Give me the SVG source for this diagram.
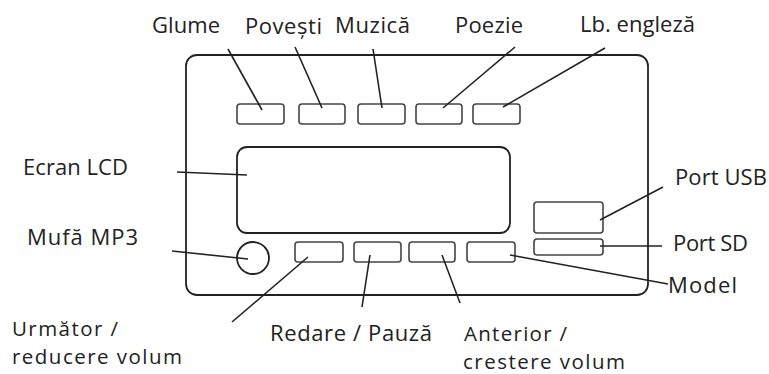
<svg xmlns="http://www.w3.org/2000/svg" width="769" height="374" viewBox="0 0 769 374">
<style>
.frame{fill:none;stroke:#222;stroke-width:1.8}
.btn{fill:#fff;stroke:#444;stroke-width:1.6}
.lbl{font-family:"Open Sans","Liberation Sans",sans-serif;font-size:22px;fill:#222}
.sm{font-size:20.5px}
.ln{stroke:#222;stroke-width:1.6;fill:none}
</style>
<rect width="769" height="374" fill="#fff"/>
<g id="device">
<rect class="frame" x="186" y="55" width="462" height="240" rx="11"/>
</g>
<g id="btn-glume"><rect class="btn" x="237" y="104" width="47" height="20" rx="3"/></g>
<g id="btn-povesti"><rect class="btn" x="299" y="104" width="46" height="20" rx="3"/></g>
<g id="btn-muzica"><rect class="btn" x="358" y="104" width="47" height="20" rx="3"/></g>
<g id="btn-poezie"><rect class="btn" x="416" y="104" width="46" height="20" rx="3"/></g>
<g id="btn-engleza"><rect class="btn" x="473" y="104" width="47" height="20" rx="3"/></g>
<g id="lcd"><rect class="frame" x="237" y="147" width="273" height="86" rx="10"/></g>
<g id="jack"><circle class="frame" cx="253" cy="258" r="16"/></g>
<g id="btn-urmator"><rect class="btn" x="295" y="242" width="48" height="20" rx="3"/></g>
<g id="btn-redare"><rect class="btn" x="354" y="242" width="47" height="20" rx="3"/></g>
<g id="btn-anterior"><rect class="btn" x="409" y="242" width="46" height="20" rx="3"/></g>
<g id="btn-model"><rect class="btn" x="467" y="242" width="48" height="20" rx="3"/></g>
<g id="usb"><rect class="btn" x="534" y="202" width="69" height="31" rx="3"/></g>
<g id="sd"><rect class="btn" x="534" y="239" width="69" height="16" rx="3"/></g>
<g id="connectors">
<line class="ln" x1="228" y1="49" x2="262" y2="110"/>
<line class="ln" x1="295" y1="47" x2="322" y2="108"/>
<line class="ln" x1="373" y1="49" x2="382" y2="108"/>
<line class="ln" x1="515" y1="47" x2="443" y2="108"/>
<line class="ln" x1="605" y1="48" x2="503" y2="107"/>
<line class="ln" x1="177" y1="172" x2="247" y2="175"/>
<line class="ln" x1="172" y1="251" x2="248" y2="259"/>
<line class="ln" x1="232" y1="322" x2="308" y2="257"/>
<line class="ln" x1="362" y1="307" x2="370" y2="255"/>
<line class="ln" x1="460" y1="303" x2="442" y2="255"/>
<line class="ln" x1="510" y1="255" x2="668" y2="284"/>
<line class="ln" x1="663" y1="187" x2="600" y2="220"/>
<line class="ln" x1="600" y1="246" x2="662" y2="246"/>
</g>
<g id="lbl-glume"><text class="lbl" x="152" y="33" textLength="68" lengthAdjust="spacing">Glume</text></g>
<g id="lbl-povesti"><text class="lbl" x="245" y="34" textLength="77" lengthAdjust="spacing">Povești</text></g>
<g id="lbl-muzica"><text class="lbl" x="335" y="33" textLength="75" lengthAdjust="spacing">Muzică</text></g>
<g id="lbl-poezie"><text class="lbl" x="455" y="33" textLength="68" lengthAdjust="spacing">Poezie</text></g>
<g id="lbl-engleza"><text class="lbl" x="580" y="32" textLength="115" lengthAdjust="spacing">Lb. engleză</text></g>
<g id="lbl-lcd"><text class="lbl" x="23" y="175" textLength="105" lengthAdjust="spacing">Ecran LCD</text></g>
<g id="lbl-mp3"><text class="lbl" x="27" y="245" textLength="111" lengthAdjust="spacing">Mufă MP3</text></g>
<g id="lbl-usb"><text class="lbl" x="675" y="185" textLength="92" lengthAdjust="spacing">Port USB</text></g>
<g id="lbl-sd"><text class="lbl" x="673" y="251" textLength="75" lengthAdjust="spacing">Port SD</text></g>
<g id="lbl-model"><text class="lbl" x="668" y="293" textLength="69" lengthAdjust="spacing">Model</text></g>
<g id="lbl-urmator"><text class="lbl sm" x="12" y="336" textLength="106" lengthAdjust="spacing">Următor /</text><text class="lbl sm" x="12" y="364" textLength="170" lengthAdjust="spacing">reducere volum</text></g>
<g id="lbl-redare"><text class="lbl" x="270" y="341" textLength="162" lengthAdjust="spacing">Redare / Pauză</text></g>
<g id="lbl-anterior"><text class="lbl sm" x="464" y="341" textLength="103" lengthAdjust="spacing">Anterior /</text><text class="lbl sm" x="463" y="369" textLength="162" lengthAdjust="spacing">crestere volum</text></g>
</svg>
